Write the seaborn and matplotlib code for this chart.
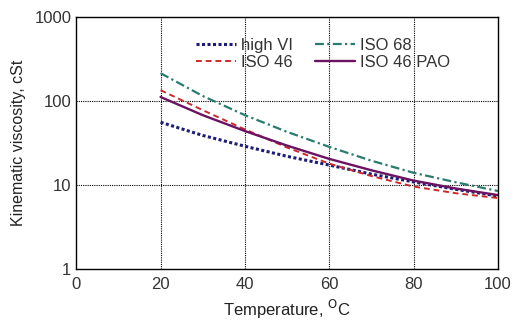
import matplotlib
matplotlib.use("Agg")
import matplotlib.pyplot as plt
import seaborn as sns
import pandas as pd
from matplotlib.ticker import LogLocator, NullFormatter, MultipleLocator

temps = [20, 30, 40, 50, 60, 70, 80, 90, 100]
high_vi = [56, 39, 29, 22, 17.3, 13.5, 10.9, 8.9, 7.4]
iso46 = [135, 78, 46, 28, 18, 12.8, 9.6, 8.0, 7.0]
iso68 = [215, 115, 68, 43, 28.5, 19.5, 14.0, 10.8, 8.5]
iso46_pao = [112, 68, 44, 29.5, 20.5, 15, 11.3, 9.1, 7.6]

series = ["high VI", "ISO 46", "ISO 68", "ISO 46 PAO"]
rows = []
for name, vals in zip(series, [high_vi, iso46, iso68, iso46_pao]):
    for t, v in zip(temps, vals):
        rows.append({"T": t, "v": v, "s": name})
df = pd.DataFrame(rows)

sns.set_style("white")
plt.rcParams['font.family'] = ['Liberation Sans', 'DejaVu Sans']

fig = plt.figure(figsize=(5.15, 3.23), dpi=100)
ax = fig.add_axes([0.148, 0.167, 0.819, 0.780])

colors = {"high VI": "#1c1c78", "ISO 46": "#cc2a2a", "ISO 68": "#2a7d6e", "ISO 46 PAO": "#6b1262"}
styles = {"high VI": (0, (1, 0.8)), "ISO 46": (0, (3, 2)), "ISO 68": (0, (4, 1.5, 1, 1.5)), "ISO 46 PAO": "-"}
widths = {"high VI": 2.2, "ISO 46": 1.4, "ISO 68": 1.6, "ISO 46 PAO": 1.7}
for name in series:
    d = df[df.s == name]
    sns.lineplot(data=d, x="T", y="v", ax=ax, color=colors[name], linestyle=styles[name],
                 linewidth=widths[name], label=name)

ax.set_yscale("log")
ax.set_xlim(0, 100)
ax.set_ylim(1, 1000)
ax.xaxis.set_major_locator(MultipleLocator(20))
ax.xaxis.set_minor_locator(MultipleLocator(10))
ax.yaxis.set_major_locator(LogLocator(base=10))
ax.yaxis.set_minor_locator(LogLocator(base=10, subs=range(2, 10)))
ax.yaxis.set_minor_formatter(NullFormatter())
ax.set_yticks([1, 10, 100, 1000])
ax.set_yticklabels(["1", "10", "100", "1000"])
ax.tick_params(which="both", direction="in", length=5, width=0.8, labelsize=12, colors="#333333")
ax.tick_params(which="minor", length=4)
ax.tick_params(axis="x", pad=6)
for sp in ax.spines.values():
    sp.set_color("black")
    sp.set_linewidth(1.0)

for x in [20, 40, 60, 80]:
    ax.axvline(x, color="black", linestyle=(0, (1, 1)), linewidth=0.8, zorder=0)
for y in [10, 100]:
    ax.axhline(y, color="black", linestyle=(0, (1, 1)), linewidth=0.8, zorder=0)

ax.set_xlabel("Temperature, $^{\\rm O}$C", fontsize=12, color="#222222", labelpad=4)
ax.set_ylabel("Kinematic viscosity, cSt", fontsize=11.5, color="#222222", labelpad=6)

leg = ax.legend(ncol=2, frameon=False, fontsize=12, loc="upper left", bbox_to_anchor=(0.285, 0.918),
                borderaxespad=0, borderpad=0,
                handlelength=2.4, columnspacing=1.3, labelspacing=0.12, handletextpad=0.3)
for t in leg.get_texts():
    t.set_color("#333333")
leg.set_zorder(5)

fig.savefig("out.png", dpi=100)
